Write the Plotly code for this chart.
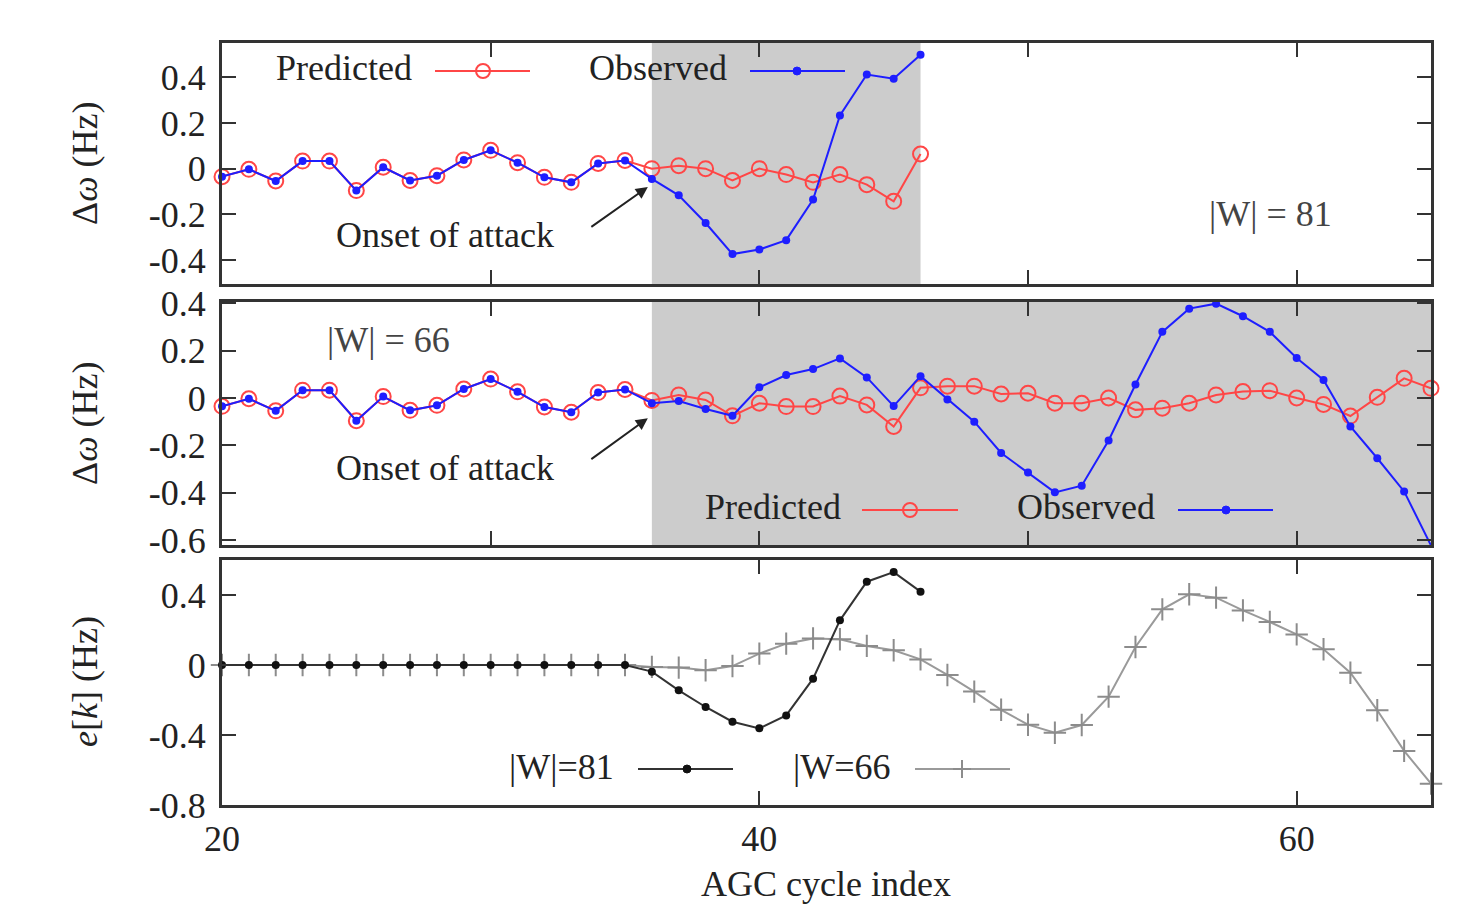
import plotly.graph_objects as go

# ---------------- data ----------------
x_81 = list(range(20, 47))
x_66 = list(range(20, 66))

pre_attack = [-0.035, -0.003, -0.054, 0.033, 0.033, -0.096, 0.006, -0.052,
              -0.031, 0.038, 0.080, 0.026, -0.038, -0.060, 0.023, 0.036]

obs_81 = pre_attack + [-0.045, -0.117, -0.238, -0.374, -0.354, -0.313, -0.135,
                       0.233, 0.412, 0.394, 0.499]
pred_81 = pre_attack + [0.000, 0.013, 0.000, -0.052, 0.000, -0.026, -0.060,
                        -0.026, -0.070, -0.143, 0.064]

obs_66 = pre_attack + [-0.022, -0.013, -0.046, -0.075, 0.045, 0.097, 0.122, 0.167,
                       0.087, -0.034, 0.092, -0.006, -0.100, -0.232, -0.314, -0.398,
                       -0.370, -0.179, 0.057, 0.279, 0.377, 0.398, 0.345, 0.279,
                       0.169, 0.076, -0.120, -0.254, -0.394, -0.622]
pred_66 = pre_attack + [-0.010, 0.013, -0.008, -0.075, -0.022, -0.036, -0.036, 0.008,
                        -0.029, -0.120, 0.043, 0.050, 0.050, 0.017, 0.020, -0.022,
                        -0.022, 0.000, -0.050, -0.043, -0.022, 0.013, 0.027, 0.031,
                        0.000, -0.027, -0.076, 0.003, 0.083, 0.041]

zeros_pre = [0.0] * 16
err_81 = zeros_pre + [-0.038, -0.145, -0.240, -0.324, -0.362, -0.288, -0.078,
                      0.255, 0.476, 0.531, 0.419]
err_66 = zeros_pre + [-0.011, -0.015, -0.030, -0.006, 0.065, 0.122, 0.152, 0.147,
                      0.109, 0.084, 0.032, -0.057, -0.152, -0.256, -0.341, -0.387,
                      -0.343, -0.181, 0.103, 0.318, 0.404, 0.385, 0.312, 0.246,
                      0.175, 0.090, -0.044, -0.259, -0.491, -0.678]

attack_start = 36
attack_end_81 = 46
x_range = [20, 65]

# tick labels
x_ticks_top = [20, 30, 40, 50, 60]
x_ticks_bottom = [20, 40, 60]
x_tick_labels = ["20", "40", "60"]
y1_ticks = [-0.4, -0.2, 0, 0.2, 0.4]
y1_labels = ["-0.4", "-0.2", "0", "0.2", "0.4"]
y2_ticks = [-0.6, -0.4, -0.2, 0, 0.2, 0.4]
y2_labels = ["-0.6", "-0.4", "-0.2", "0", "0.2", "0.4"]
y3_ticks = [-0.8, -0.4, 0, 0.4]
y3_labels = ["-0.8", "-0.4", "0", "0.4"]

# ---------------- styling ----------------
W, H = 1466, 911
FONT = "Liberation Serif"
FS = 36
TXT = "#222222"
RED = "rgb(255,70,70)"
BLUE = "rgb(30,30,255)"
BLACK = "#111111"
GRAY = "#8c8c8c"
SHADE = "#cccccc"
FRAME = "#333333"


def px(v):
    return v / W


def py(v):
    return 1 - v / H


fig = go.Figure()

# panel 1 (|W| = 81)
fig.add_trace(go.Scatter(x=x_81, y=pred_81, mode="lines+markers", xaxis="x", yaxis="y",
                         line=dict(color=RED, width=2),
                         marker=dict(symbol="circle-open", size=15, color=RED, line=dict(width=2)),
                         cliponaxis=False, showlegend=False))
fig.add_trace(go.Scatter(x=x_81, y=obs_81, mode="lines+markers", xaxis="x", yaxis="y",
                         line=dict(color=BLUE, width=2),
                         marker=dict(symbol="circle", size=8, color=BLUE),
                         cliponaxis=False, showlegend=False))
# panel 2 (|W| = 66)
fig.add_trace(go.Scatter(x=x_66, y=pred_66, mode="lines+markers", xaxis="x2", yaxis="y2",
                         line=dict(color=RED, width=2),
                         marker=dict(symbol="circle-open", size=15, color=RED, line=dict(width=2)),
                         cliponaxis=False, showlegend=False))
fig.add_trace(go.Scatter(x=x_66, y=obs_66, mode="lines+markers", xaxis="x2", yaxis="y2",
                         line=dict(color=BLUE, width=2),
                         marker=dict(symbol="circle", size=8, color=BLUE),
                         cliponaxis=False, showlegend=False))
# panel 3 (error)
fig.add_trace(go.Scatter(x=x_66, y=err_66, mode="lines+markers", xaxis="x3", yaxis="y3",
                         line=dict(color="#9a9a9a", width=2),
                         marker=dict(symbol="cross-thin", size=16, color=GRAY,
                                     line=dict(width=2, color=GRAY)),
                         cliponaxis=False, showlegend=False))
fig.add_trace(go.Scatter(x=x_81, y=err_81, mode="lines+markers", xaxis="x3", yaxis="y3",
                         line=dict(color="#333333", width=2),
                         marker=dict(symbol="circle", size=8, color=BLACK),
                         cliponaxis=False, showlegend=False))

xdom = [px(222), px(1431)]
doms = {
    1: [py(284), py(43)],
    2: [py(545), py(302)],
    3: [py(805), py(560)],
}
yranges = {1: [-0.505, 0.55], 2: [-0.62, 0.405], 3: [-0.80, 0.60]}
yticks = {1: (y1_ticks, y1_labels), 2: (y2_ticks, y2_labels), 3: (y3_ticks, y3_labels)}

axis_common = dict(showline=True, linewidth=3, linecolor=FRAME, mirror="ticks",
                   ticks="inside", ticklen=14, tickwidth=2, tickcolor=FRAME,
                   showgrid=False, zeroline=False, automargin=False,
                   tickfont=dict(family=FONT, size=FS, color=TXT))

layout = {}
for i in (1, 2, 3):
    xs = "xaxis" if i == 1 else f"xaxis{i}"
    ys = "yaxis" if i == 1 else f"yaxis{i}"
    if i < 3:
        xt = dict(tickmode="array", tickvals=x_ticks_top, showticklabels=False)
    else:
        xt = dict(tickmode="array", tickvals=x_ticks_bottom, ticktext=x_tick_labels,
                  showticklabels=True)
    layout[xs] = dict(axis_common, domain=xdom, range=x_range,
                      anchor=("y" if i == 1 else f"y{i}"), **xt)
    layout[ys] = dict(axis_common, domain=doms[i], range=yranges[i],
                      anchor=("x" if i == 1 else f"x{i}"), ticklabelstandoff=6,
                      tickmode="array", tickvals=yticks[i][0], ticktext=yticks[i][1])
fig.update_layout(**layout)

shapes = [
    dict(type="rect", xref="x", yref="y domain", x0=attack_start, x1=attack_end_81, y0=0, y1=1,
         fillcolor=SHADE, line=dict(width=0), layer="below"),
    dict(type="rect", xref="x2", yref="y2 domain", x0=attack_start, x1=x_range[1], y0=0, y1=1,
         fillcolor=SHADE, line=dict(width=0), layer="below"),
]


def leg_line(x0, x1, y, color, width=2):
    shapes.append(dict(type="line", xref="paper", yref="paper", x0=px(x0), x1=px(x1),
                       y0=py(y), y1=py(y), line=dict(color=color, width=width)))


def leg_circle(xc, yc, r, color, fill, width=2):
    shapes.append(dict(type="circle", xref="paper", yref="paper", xsizemode="pixel",
                       ysizemode="pixel", xanchor=px(xc), yanchor=py(yc),
                       x0=-r, x1=r, y0=-r, y1=r, fillcolor=fill,
                       line=dict(color=color, width=width)))


def leg_plus(xc, yc, r, color):
    shapes.append(dict(type="line", xref="paper", yref="paper", x0=px(xc - r), x1=px(xc + r),
                       y0=py(yc), y1=py(yc), line=dict(color=color, width=2)))
    shapes.append(dict(type="line", xref="paper", yref="paper", x0=px(xc), x1=px(xc),
                       y0=py(yc - r), y1=py(yc + r), line=dict(color=color, width=2)))


# legend samples
leg_line(435, 530, 71, RED)
leg_circle(483, 71, 7, RED, "rgba(0,0,0,0)")
leg_line(750, 845, 71, BLUE)
leg_circle(797, 71, 4, BLUE, BLUE, 1)
leg_line(862, 958, 510, RED)
leg_circle(910, 510, 7, RED, "rgba(0,0,0,0)")
leg_line(1178, 1273, 510, BLUE)
leg_circle(1226, 510, 4, BLUE, BLUE, 1)
leg_line(638, 733, 769, "#333333")
leg_circle(687, 769, 4, BLACK, BLACK, 1)
leg_line(915, 1010, 769, "#9a9a9a")
leg_plus(962, 769, 9, GRAY)

fig.update_layout(shapes=shapes)

ann = []


def text(t, xc, yc, xanchor="center", size=FS, color=TXT):
    ann.append(dict(text=t, xref="paper", yref="paper", x=px(xc), y=py(yc),
                    xanchor=xanchor, yanchor="middle", showarrow=False,
                    font=dict(family=FONT, size=size, color=color)))


text("Predicted", 414, 68, "right")
text("Observed", 729, 68, "right")
text("Predicted", 843, 507, "right")
text("Observed", 1157, 507, "right")
text("|W|=81", 616, 767, "right")
text("|W=66", 893, 767, "right")
text("|W| = 81", 1270, 214, color="#444444")
text("|W| = 66", 388, 340, color="#444444")
text("Onset of attack", 445, 235)
text("Onset of attack", 445, 468)
text("AGC cycle index", 826, 884)

# arrows to onset of attack
ann.append(dict(text="", xref="x", yref="y", x=35.85, y=-0.08, ax=-58, ay=41,
                showarrow=True, arrowhead=2, arrowsize=1.2, arrowwidth=2, arrowcolor="#222222"))
ann.append(dict(text="", xref="x2", yref="y2", x=35.85, y=-0.085, ax=-58, ay=42,
                showarrow=True, arrowhead=2, arrowsize=1.2, arrowwidth=2, arrowcolor="#222222"))

# y-axis titles
for yc, t in ((163, "Δ<i>ω</i> (Hz)"), (423, "Δ<i>ω</i> (Hz)"), (682, "<i>e</i>[<i>k</i>] (Hz)")):
    ann.append(dict(text=t, xref="paper", yref="paper", x=px(85), y=py(yc),
                    xanchor="center", yanchor="middle", textangle=-90, showarrow=False,
                    font=dict(family=FONT, size=FS, color=TXT)))

fig.update_layout(annotations=ann,
                  width=W, height=H, margin=dict(l=0, r=0, t=0, b=0),
                  paper_bgcolor="white", plot_bgcolor="white",
                  font=dict(family=FONT, size=FS, color=TXT))

fig.write_html("out.html", config={"displayModeBar": False},
               post_script="document.body.style.margin='0';document.body.style.overflow='hidden';")
